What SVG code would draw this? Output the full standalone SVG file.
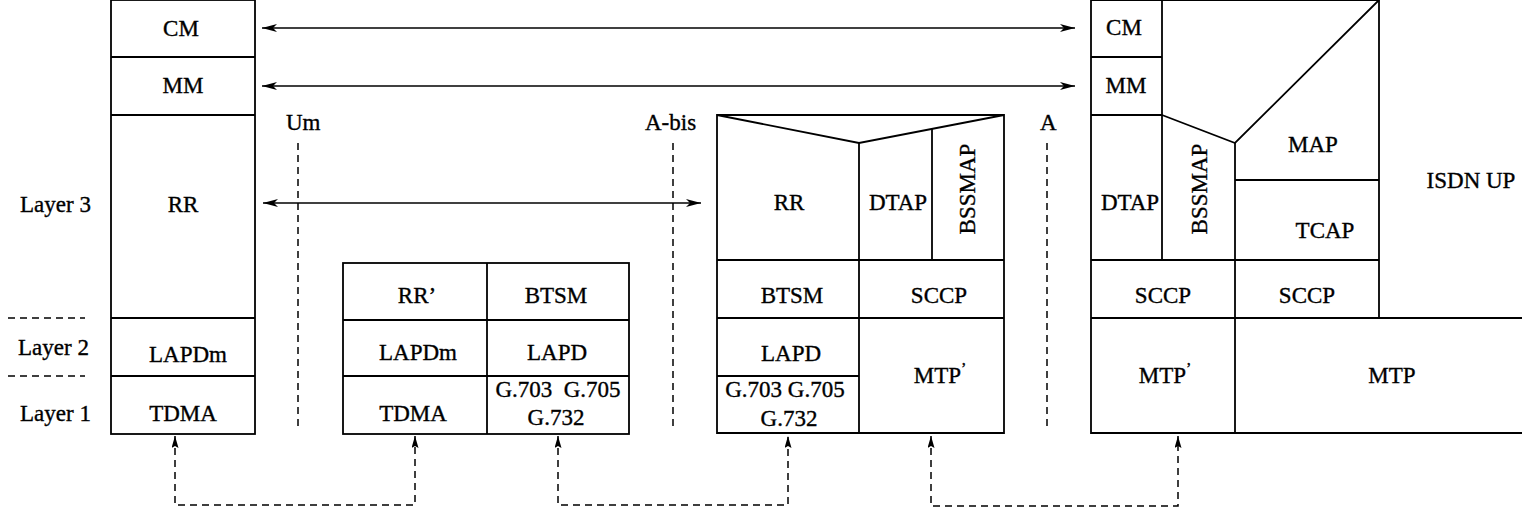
<svg xmlns="http://www.w3.org/2000/svg" width="1522" height="516" viewBox="0 0 1522 516">
  <style>
    .box { fill: none; stroke: #000; stroke-width: 1.8; }
    .ln { fill: none; stroke: #000; stroke-width: 1.8; }
    .t { font-family: "Liberation Serif", "DejaVu Serif", serif; font-size: 23px; fill: #000; stroke: #000; stroke-width: 0.35; text-anchor: middle; white-space: pre; }
    .lbl { font-family: "Liberation Serif", "DejaVu Serif", serif; font-size: 23px; fill: #000; stroke: #000; stroke-width: 0.35; text-anchor: start; }
    .divider { fill: none; stroke: #000; stroke-width: 1.5; stroke-dasharray: 7 5; }
    .flow { fill: none; stroke: #000; stroke-width: 1.5; stroke-dasharray: 7 5; }
    .peer { fill: none; stroke: #000; stroke-width: 1.5; }
  </style>
  <defs>
    <marker id="solidHead" viewBox="0 0 15 8" refX="15" refY="4" markerWidth="15" markerHeight="8" markerUnits="userSpaceOnUse" orient="auto-start-reverse">
      <path d="M0,0 L15,4 L0,8 L4,4 Z" fill="#000"/>
    </marker>
    <marker id="flowHead" viewBox="0 0 12 7" refX="12" refY="3.5" markerWidth="12" markerHeight="7" markerUnits="userSpaceOnUse" orient="auto-start-reverse">
      <path d="M0,0 L12,3.5 L0,7 L2,3.5 Z" fill="#000"/>
    </marker>
  </defs>

  <!-- Layer legend -->
  <g id="layers">
    <text class="lbl" x="20" y="212">Layer 3</text>
    <text class="lbl" x="18" y="355">Layer 2</text>
    <text class="lbl" x="20" y="421">Layer 1</text>
    <line class="divider" x1="8" y1="318" x2="85" y2="318"/>
    <line class="divider" x1="8" y1="376" x2="85" y2="376"/>
  </g>

  <!-- Interface boundaries -->
  <g id="interfaces">
    <text class="lbl" x="286" y="130">Um</text>
    <line class="divider" x1="298" y1="143" x2="298" y2="430"/>
    <text class="lbl" x="645" y="130">A-bis</text>
    <line class="divider" x1="673" y1="143" x2="673" y2="430"/>
    <text class="lbl" x="1040" y="130">A</text>
    <line class="divider" x1="1047" y1="143" x2="1047" y2="430"/>
  </g>

  <!-- Mobile station stack -->
  <g id="ms">
    <rect class="box" x="111" y="0" width="144" height="434"/>
    <line class="ln" x1="111" y1="57" x2="255" y2="57"/>
    <line class="ln" x1="111" y1="115" x2="255" y2="115"/>
    <line class="ln" x1="111" y1="318" x2="255" y2="318"/>
    <line class="ln" x1="111" y1="376" x2="255" y2="376"/>
    <text class="t" x="181" y="36">CM</text>
    <text class="t" x="183" y="93">MM</text>
    <text class="t" x="183" y="212">RR</text>
    <text class="t" x="188" y="362">LAPDm</text>
    <text class="t" x="183" y="421">TDMA</text>
  </g>

  <!-- Base transceiver station stack -->
  <g id="bts">
    <rect class="box" x="343" y="263" width="286" height="171"/>
    <line class="ln" x1="487" y1="263" x2="487" y2="434"/>
    <line class="ln" x1="343" y1="320" x2="629" y2="320"/>
    <line class="ln" x1="343" y1="376" x2="629" y2="376"/>
    <text class="t" x="417" y="303">RR’</text>
    <text class="t" x="556" y="303">BTSM</text>
    <text class="t" x="418" y="360">LAPDm</text>
    <text class="t" x="557" y="360">LAPD</text>
    <text class="t" x="413" y="421">TDMA</text>
    <text class="t" x="558" y="397">G.703  G.705</text>
    <text class="t" x="556" y="425">G.732</text>
  </g>

  <!-- Base station controller stack -->
  <g id="bsc">
    <path class="box" d="M717,115 H1004 V433 H717 Z"/>
    <path class="ln" d="M717,115 L859,143 L1004,115"/>
    <line class="ln" x1="859" y1="143" x2="859" y2="433"/>
    <line class="ln" x1="932" y1="129" x2="932" y2="260"/>
    <line class="ln" x1="717" y1="260" x2="1004" y2="260"/>
    <line class="ln" x1="717" y1="318" x2="1004" y2="318"/>
    <line class="ln" x1="717" y1="376" x2="859" y2="376"/>
    <text class="t" x="789" y="210">RR</text>
    <text class="t" x="898" y="210">DTAP</text>
    <text class="t" transform="translate(975,189) rotate(-90)">BSSMAP</text>
    <text class="t" x="792" y="303">BTSM</text>
    <text class="t" x="939" y="303">SCCP</text>
    <text class="t" x="791" y="361">LAPD</text>
    <text class="t" x="785" y="397">G.703 G.705</text>
    <text class="t" x="789" y="426">G.732</text>
    <text class="t" x="940" y="383">MTP<tspan dy="-9" font-size="16">’</tspan></text>
  </g>

  <!-- Mobile switching centre stack -->
  <g id="msc">
    <path class="box" d="M1379,0 H1091 V433 H1522"/>
    <line class="ln" x1="1162" y1="0" x2="1162" y2="260"/>
    <line class="ln" x1="1091" y1="57" x2="1162" y2="57"/>
    <line class="ln" x1="1091" y1="115" x2="1162" y2="115"/>
    <path class="ln" d="M1162,115 L1235,143 L1379,0"/>
    <line class="ln" x1="1235" y1="143" x2="1235" y2="433"/>
    <line class="ln" x1="1379" y1="0" x2="1379" y2="318"/>
    <line class="ln" x1="1235" y1="180" x2="1379" y2="180"/>
    <line class="ln" x1="1091" y1="260" x2="1379" y2="260"/>
    <line class="ln" x1="1091" y1="318" x2="1522" y2="318"/>
    <text class="t" x="1124" y="35">CM</text>
    <text class="t" x="1126" y="93">MM</text>
    <text class="t" x="1130" y="210">DTAP</text>
    <text class="t" transform="translate(1207,189) rotate(-90)">BSSMAP</text>
    <text class="t" x="1313" y="152">MAP</text>
    <text class="t" x="1325" y="238">TCAP</text>
    <text class="t" x="1471" y="188">ISDN UP</text>
    <text class="t" x="1163" y="303">SCCP</text>
    <text class="t" x="1307" y="303">SCCP</text>
    <text class="t" x="1165" y="383">MTP<tspan dy="-9" font-size="16">’</tspan></text>
    <text class="t" x="1392" y="383">MTP</text>
  </g>

  <!-- Peer and physical connectors -->
  <g id="connectors">
    <line class="peer" x1="262" y1="28" x2="1075" y2="28" marker-start="url(#solidHead)" marker-end="url(#solidHead)"/>
    <line class="peer" x1="262" y1="86" x2="1075" y2="86" marker-start="url(#solidHead)" marker-end="url(#solidHead)"/>
    <line class="peer" x1="263" y1="203" x2="701" y2="203" marker-start="url(#solidHead)" marker-end="url(#solidHead)"/>
    <path class="flow" d="M175,436 V505 H415 V436" marker-start="url(#flowHead)" marker-end="url(#flowHead)"/>
    <path class="flow" d="M558,436 V505 H788 V436" marker-start="url(#flowHead)" marker-end="url(#flowHead)"/>
    <path class="flow" d="M931,436 V506 H1178 V436" marker-start="url(#flowHead)" marker-end="url(#flowHead)"/>
  </g>
</svg>
